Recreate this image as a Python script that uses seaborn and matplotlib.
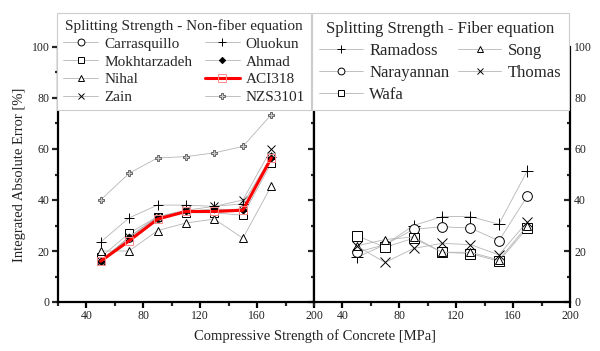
import matplotlib
matplotlib.use("Agg")
import matplotlib.pyplot as plt
import seaborn as sns
import pandas as pd
from matplotlib.ticker import MultipleLocator

sns.set_style("ticks")
plt.rcParams['font.family'] = ['Liberation Serif', 'DejaVu Serif']

strength = [50, 70, 90, 110, 130, 150, 170]

# Non-fiber equations
carrasquillo = [16.5, 25.0, 33.0, 35.5, 36.0, 36.5, 57.0]
mokhtarzadeh = [17.5, 27.0, 33.5, 35.0, 35.0, 34.0, 54.5]
nihal = [20.0, 20.0, 28.0, 31.0, 32.5, 25.0, 45.5]
zain = [16.0, 25.5, 33.5, 36.0, 37.5, 40.0, 60.0]
oluokun = [23.5, 33.0, 38.0, 38.0, 37.5, 38.5, 57.0]
ahmad = [16.0, 25.5, 33.5, 35.5, 36.5, 36.0, 56.5]
aci318 = [16.0, 24.0, 32.5, 35.5, 35.5, 36.0, 56.5]
nzs3101 = [40.0, 50.5, 56.5, 57.0, 58.5, 61.0, 73.5]

# Fiber equations
ramadoss = [17.5, 22.5, 30.0, 33.5, 33.5, 30.5, 51.5]
narayannan = [19.5, 22.5, 28.5, 29.5, 29.0, 24.0, 41.5]
wafa = [26.0, 21.5, 25.0, 19.5, 19.0, 16.0, 29.0]
song = [22.0, 24.5, 25.5, 19.5, 19.5, 16.5, 30.0]
thomas = [22.0, 15.5, 21.0, 23.0, 22.5, 18.5, 31.5]

left_names = ["Carrasquillo", "Mokhtarzadeh", "Nihal", "Zain",
              "Oluokun", "Ahmad", "ACI318", "NZS3101"]
left_vals = [carrasquillo, mokhtarzadeh, nihal, zain, oluokun, ahmad, aci318, nzs3101]
right_names = ["Ramadoss", "Narayannan", "Wafa", "Song", "Thomas"]
right_vals = [ramadoss, narayannan, wafa, song, thomas]

GRAY = '#b5b5b5'
base = dict(color=GRAY, linewidth=0.6, markerfacecolor='white',
            markeredgecolor='black', markeredgewidth=0.7, markersize=5.5)
styles = {
    "Carrasquillo": dict(marker='o'),
    "Mokhtarzadeh": dict(marker='s'),
    "Nihal": dict(marker='^'),
    "Zain": dict(marker='x'),
    "Oluokun": dict(marker='+', markersize=7),
    "Ahmad": dict(marker='D', markerfacecolor='black', markersize=3.5),
    "ACI318": dict(marker='s', color='#ff0000', linewidth=2.2,
                   markeredgecolor='#ff8a8a', markerfacecolor='none',
                   markersize=6, zorder=3),
    "NZS3101": dict(marker='P', markerfacecolor='#c8c8c8',
                    markeredgecolor='#666666', markersize=4.5),
    "Ramadoss": dict(marker='+', markersize=8),
    "Narayannan": dict(marker='o', markersize=7),
    "Wafa": dict(marker='s', markersize=6.5),
    "Song": dict(marker='^', markersize=6),
    "Thomas": dict(marker='x', markersize=6.5),
}

fig = plt.figure(figsize=(6.0, 3.51), dpi=100)
ax1 = fig.add_axes([58/600, 1-302/351, 256/600, 255/351])
ax2 = fig.add_axes([314/600, 1-302/351, 256/600, 255/351])

def draw(ax, names, vals):
    for n, v in zip(names, vals):
        df = pd.DataFrame({"x": strength, "y": v})
        kw = dict(base)
        kw.update(styles[n])
        sns.lineplot(data=df, x="x", y="y", ax=ax, label=n, errorbar=None, **kw)

draw(ax1, left_names, left_vals)
draw(ax2, right_names, right_vals)

for ax in (ax1, ax2):
    ax.set_xlim(20, 200)
    ax.set_ylim(0, 100)
    ax.xaxis.set_major_locator(MultipleLocator(40))
    ax.xaxis.set_minor_locator(MultipleLocator(20))
    ax.yaxis.set_major_locator(MultipleLocator(20))
    ax.yaxis.set_minor_locator(MultipleLocator(10))
    for s in ax.spines.values():
        s.set_linewidth(1.6)
        s.set_color('black')
    ax.spines['top'].set_visible(False)
    ax.tick_params(axis='x', which='major', direction='out', length=4, width=1.6,
                   labelsize=8.5, pad=2, colors='black', labelcolor='#222222')
    ax.tick_params(axis='x', which='minor', direction='out', length=3, width=1.6)
    ax.set_xlabel("")
    ax.set_ylabel("")

ax1.set_xticks([40, 80, 120, 160, 200])
ax2.set_xticks([40, 80, 120, 160, 200])

ax1.tick_params(axis='y', which='major', left=True, right=True, direction='out',
                length=4, width=1.6, labelsize=8.5, pad=2, labelcolor='#222222')
ax1.tick_params(axis='y', which='minor', left=True, right=True, direction='out',
                length=2.5, width=1.6)
# right-side ticks of left panel point inward
for t in ax1.yaxis.get_major_ticks() + ax1.yaxis.get_minor_ticks():
    t.tick2line.set_marker(matplotlib.lines.TICKLEFT)

ax2.tick_params(axis='y', which='both', left=False, right=True, labelleft=False,
                labelright=True, direction='in', width=1.6, labelsize=8.5, pad=3,
                labelcolor='#222222')
ax2.tick_params(axis='y', which='major', length=4)
ax2.tick_params(axis='y', which='minor', length=2.5)

ax1.set_ylabel("Integrated Absolute Error [%]", fontsize=10.5, labelpad=4,
               color='#222222')
fig.text(315/600, 1-336/351, "Compressive Strength of Concrete [MPa]",
         ha='center', va='center', fontsize=10.5, color='#222222')

leg1 = ax1.legend(loc='upper left', bbox_to_anchor=(-0.004, 1.133), ncol=2,
                  title="Splitting Strength - Non-fiber equation",
                  fontsize=11, title_fontsize=11, frameon=True,
                  fancybox=False, framealpha=1, edgecolor='#cccccc',
                  handlelength=2.3, labelspacing=0.27, columnspacing=0.8,
                  handletextpad=0.4, borderpad=0.4, borderaxespad=0,
                  markerscale=0.9)
leg1.get_frame().set_linewidth(0.8)
leg1.set_zorder(10)

leg2 = ax2.legend(loc='upper left', bbox_to_anchor=(-0.008, 1.133), ncol=2,
                  title="Splitting Strength - Fiber equation",
                  fontsize=12, title_fontsize=12, frameon=True,
                  fancybox=False, framealpha=1, edgecolor='#cccccc',
                  handlelength=2.6, labelspacing=0.36, columnspacing=0.5,
                  handletextpad=0.4, borderpad=0.45, borderaxespad=0,
                  markerscale=0.7)
leg2.get_frame().set_linewidth(0.8)
leg2.set_zorder(10)

fig.savefig("out.png", dpi=100)
